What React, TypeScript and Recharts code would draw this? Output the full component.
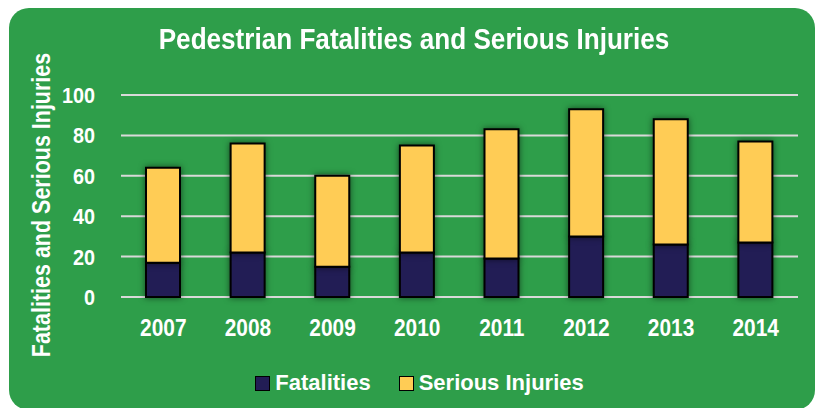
import { Bar, BarChart, CartesianGrid, Legend, XAxis, YAxis } from "recharts";

const years = ["2007", "2008", "2009", "2010", "2011", "2012", "2013", "2014"];
const fatalities = [17, 22, 15, 22, 19, 30, 26, 27];
const seriousInjuries = [47, 54, 45, 53, 64, 63, 62, 50];
const yTicks = [0, 20, 40, 60, 80, 100];

const data = years.map((year, i) => ({
  year,
  Fatalities: fatalities[i],
  "Serious Injuries": seriousInjuries[i],
}));

const font = "'Liberation Sans', Arial, sans-serif";
const green = "#2E9E4A";

// narrow-ish bold text, the source uses a condensed face
function XTick({ x, y, payload }: any) {
  return (
    <text
      transform={`translate(${x},${y}) scale(0.87,1)`}
      textAnchor="middle"
      dy="0.71em"
      fill="#fff"
      fontSize={24}
      fontWeight={700}
      fontFamily={font}
    >
      {payload.value}
    </text>
  );
}

function YTick({ x, y, payload }: any) {
  return (
    <text
      transform={`translate(${x},${y}) scale(0.9,1)`}
      textAnchor="end"
      dy="0.36em"
      fill="#fff"
      fontSize={22}
      fontWeight={700}
      fontFamily={font}
    >
      {payload.value}
    </text>
  );
}

function LegendBox({ payload }: any) {
  return (
    <div style={{ display: "flex", justifyContent: "center", alignItems: "center", gap: 28, paddingLeft: 14 }}>
      {payload.map((p: any) => (
        <div key={p.value} style={{ display: "flex", alignItems: "center", gap: 5 }}>
          <span style={{ width: 13, height: 13, background: p.color, border: "1.5px solid #000" }} />
          <span style={{ color: "#fff", fontFamily: font, fontSize: 22, fontWeight: 700 }}>{p.value}</span>
        </div>
      ))}
    </div>
  );
}

export default function App() {
  return (
    <div style={{ position: "relative", margin: -8, width: 825, height: 416, background: "#fff", overflow: "hidden" }}>
      <style>{`.recharts-bar-rectangle { filter: drop-shadow(0 0 3px rgba(0,0,0,0.55)); }`}</style>
      <div
        style={{
          position: "absolute",
          left: 9,
          top: 8,
          width: 806,
          height: 402,
          borderRadius: 20,
          background: green,
        }}
      />
      <div
        style={{
          position: "absolute",
          top: 22,
          left: 0,
          width: 828,
          textAlign: "center",
          color: "#fff",
          fontFamily: font,
          fontWeight: 700,
          fontSize: 30,
          transform: "scaleX(0.87)",
        }}
      >
        Pedestrian Fatalities and Serious Injuries
      </div>
      <div style={{ position: "absolute", left: 0, top: 0 }}>
        <BarChart width={825} height={416} data={data} margin={{ top: 95, right: 27, left: 0, bottom: 53 }} barSize={34}>
          <CartesianGrid vertical={false} stroke="#D9D9D9" strokeWidth={2} />
          <XAxis dataKey="year" axisLine={false} tickLine={false} tick={<XTick />} height={40} tickMargin={16} />
          <YAxis
            domain={[0, 100]}
            ticks={yTicks}
            axisLine={false}
            tickLine={false}
            tick={<YTick />}
            width={121}
            tickMargin={20}
            label={{
              content: () => (
                <text
                  transform="translate(50,205) rotate(-90) scale(0.86,1)"
                  textAnchor="middle"
                  fill="#fff"
                  fontSize={25}
                  fontWeight={700}
                  fontFamily={font}
                >
                  Fatalities and Serious Injuries
                </text>
              ),
            }}
          />
          <Legend content={<LegendBox />} wrapperStyle={{ left: 0, width: 825, bottom: 20 }} />
          <Bar dataKey="Fatalities" stackId="a" fill="#221D55" stroke="#000" strokeWidth={2} isAnimationActive={false} />
          <Bar dataKey="Serious Injuries" stackId="a" fill="#FFCC55" stroke="#000" strokeWidth={2} isAnimationActive={false} />
        </BarChart>
      </div>
    </div>
  );
}
